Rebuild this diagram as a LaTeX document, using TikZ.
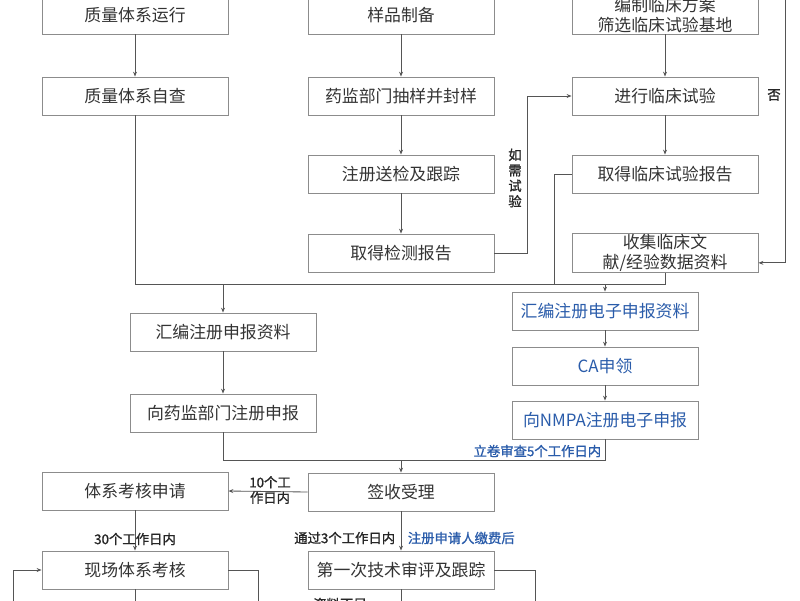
\documentclass[tikz,border=0pt]{standalone}
\usepackage{fontspec}
\newfontfamily\cjk{Noto Sans CJK SC}
\newfontfamily\cjkb[FakeBold=1.2]{Noto Sans CJK SC}
\usetikzlibrary{arrows.meta}
\definecolor{linegray}{HTML}{555555}
\definecolor{boxgray}{HTML}{8C8C8C}
\definecolor{noteblue}{HTML}{2A5CAA}
\tikzset{box/.style = {draw=boxgray, semithick, minimum width=4.65cm, minimum height=0.95cm, inner sep=1pt, align=center, text=black!80, font=\cjk\fontsize{12}{14}\selectfont},
  bbox/.style = {box, text=noteblue},
  lbl/.style = {inner sep=1pt, align=center, text=black!85, font=\cjkb\fontsize{9.5}{11}\selectfont},
  blbl/.style = {lbl, text=noteblue},
  arr/.style = {-{Stealth[length=3.5pt, width=2.8pt]}}}

\begin{document}
\begin{tikzpicture}[x=0.025cm, y=-0.025cm, color=linegray, line width=0.6pt]
    \useasboundingbox (0, 0) rectangle (800, 600);

    \node [box] (zlyx) at (135, 15) {质量体系运行};
    \node [box] (zlzc) at (135, 96) {质量体系自查};

    \node [box] (ypzb) at (401, 15) {样品制备};
    \node [box] (cyfy) at (401, 96) {药监部门抽样并封样};
    \node [box] (sjgz) at (401, 174) {注册送检及跟踪};
    \node [box] (jcbg) at (401, 253) {取得检测报告};

    \node [box] (lcfa) at (665, 15) {编制临床方案\\筛选临床试验基地};
    \node [box] (lcsy) at (665, 96) {进行临床试验};
    \node [box] (lcbg) at (665, 174) {取得临床试验报告};
    \node [box] (wxzl) at (665, 253) {收集临床文\\献/经验数据资料};

    \node [box] (hbzl) at (223, 332) {汇编注册申报资料};
    \node [box] (zcsb) at (223, 413) {向药监部门注册申报};

    \node [bbox] (dzzl) at (605, 311) {汇编注册电子申报资料};
    \node [bbox] (casl) at (605, 366) {CA申领};
    \node [bbox] (nmpa) at (605, 420) {向NMPA注册电子申报};

    \node [box] (qsl) at (401, 492) {签收受理};
    \node [box] (txsq) at (135, 491) {体系考核申请};
    \node [box] (xckh) at (135, 570) {现场体系考核};
    \node [box] (jssp) at (401, 570) {第一次技术审评及跟踪};

    \draw [arr] (zlyx) -- (zlzc);
    \draw [arr] (ypzb) -- (cyfy);
    \draw [arr] (cyfy) -- (sjgz);
    \draw [arr] (sjgz) -- (jcbg);
    \draw [arr] (lcfa) -- (lcsy);
    \draw [arr] (lcsy) -- (lcbg);

    \coordinate (fou) at (785, -5);
    \draw [arr] (fou) |- ([yshift=-7pt]wxzl.east);
    \node [lbl] (foulbl) at (774, 95) {否};

    \draw [arr] (jcbg.east) -- ++(33, 0) |- (lcsy.west);
    \node [lbl] (rxsy) at (515, 178) {如\\需\\试\\验};

    \coordinate (hz1) at (135, 284);
    \coordinate (hz2) at (665, 284);
    \draw (zlzc.south) -- (hz1) -- (hz2) -- (wxzl.south);
    \draw (lcbg.west) -| (554, 284);
    \draw [arr] (hbzl.north |- hz1) -- (hbzl.north);
    \draw [arr] (dzzl.north |- hz1) -- (dzzl.north);

    \draw [arr] (hbzl) -- (zcsb);
    \draw [arr] (dzzl) -- (casl);
    \draw [arr] (casl) -- (nmpa);

    \coordinate (hz3) at (223, 460);
    \coordinate (hz4) at (605, 460);
    \draw (zcsb.south) -- (hz3) -- (hz4) -- (nmpa.south);
    \node [blbl, anchor=east] (ljsc) at (603, 451) {立卷审查5个工作日内};
    \draw [arr] (qsl.north |- hz3) -- (qsl.north);

    \draw [arr] (qsl.west) -- (txsq.east);
    \node [lbl] (sgr) at (270, 490) {10个工\\作日内};

    \draw [arr] (txsq) -- (xckh);
    \node [lbl] (sanshi) at (135, 539) {30个工作日内};

    \draw [arr] (qsl) -- (jssp);
    \node [lbl, anchor=east] (tg) at (397, 538) {通过3个工作日内};
    \node [blbl, anchor=west] (jf) at (406, 538) {注册申请人缴费后};

    \draw [arr] (13, 610) |- (xckh.west);
    \draw (xckh.east) -| (258, 610);
    \draw (xckh.south) -- (135, 610);
    \draw (jssp.east) -| (535, 610);
    \draw (jssp.south) -- (401, 610);
    \node [lbl] (zlbz) at (340, 604) {资料不足};
  \end{tikzpicture}
\end{document}
